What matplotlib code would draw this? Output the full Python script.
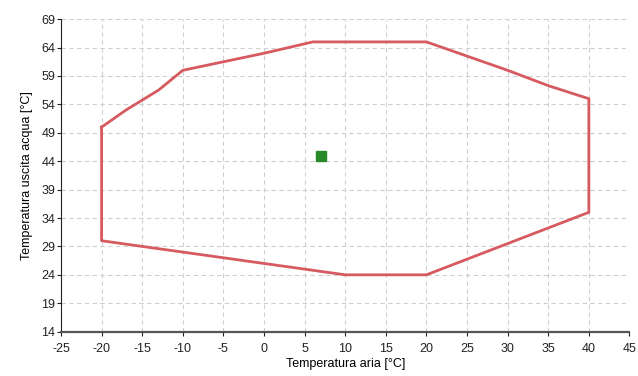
import matplotlib
matplotlib.use("Agg")
import matplotlib.pyplot as plt

# Envelope polygon (air temperature, water outlet temperature)
env_x = [-20, -17, -13, -10, 0, 6, 20, 22, 25, 30, 35, 40, 40, 20, 10, 0, -5, -10, -20, -20]
env_y = [50, 53, 56.5, 60, 63, 65, 65, 64, 62.5, 60, 57.3, 55, 35, 24, 24, 26, 27, 28, 30, 50]

# Operating point
pt_x = [7]
pt_y = [45]

x_ticks = list(range(-25, 50, 5))
y_ticks = list(range(14, 70, 5))

plt.rcParams['font.family'] = ['Liberation Sans', 'DejaVu Sans']
plt.rcParams['axes.unicode_minus'] = False

fig = plt.figure(figsize=(6.38, 3.76), dpi=100)
ax = fig.add_axes([0.0956, 0.118, 0.891, 0.831])

ax.plot(env_x, env_y, color='#d65a5f', linewidth=2.0, solid_joinstyle='round', zorder=3)
ax.plot(pt_x, pt_y, marker='s', linestyle='none', color='#2a8a2a', markersize=7, zorder=4)

ax.set_xlim(-25, 45)
ax.set_ylim(14, 69)
ax.set_xticks(x_ticks)
ax.set_yticks(y_ticks)
ax.grid(True, linestyle=(0, (4, 3)), color='#cfcfcf', linewidth=0.8)
ax.set_axisbelow(True)

for s in ['top', 'right']:
    ax.spines[s].set_visible(False)
ax.spines['left'].set_color('#222222')
ax.spines['bottom'].set_color('#555555')
ax.spines['bottom'].set_linewidth(1.6)
ax.tick_params(axis='both', direction='out', length=3, width=0.8, labelsize=9, pad=1, colors='#222222')
ax.tick_params(axis='x', pad=5)

ax.set_xlabel('Temperatura aria [°C]', fontsize=9, labelpad=2)
ax.set_ylabel('Temperatura uscita acqua [°C]', fontsize=9, labelpad=6)

fig.savefig('out.png', dpi=100)
